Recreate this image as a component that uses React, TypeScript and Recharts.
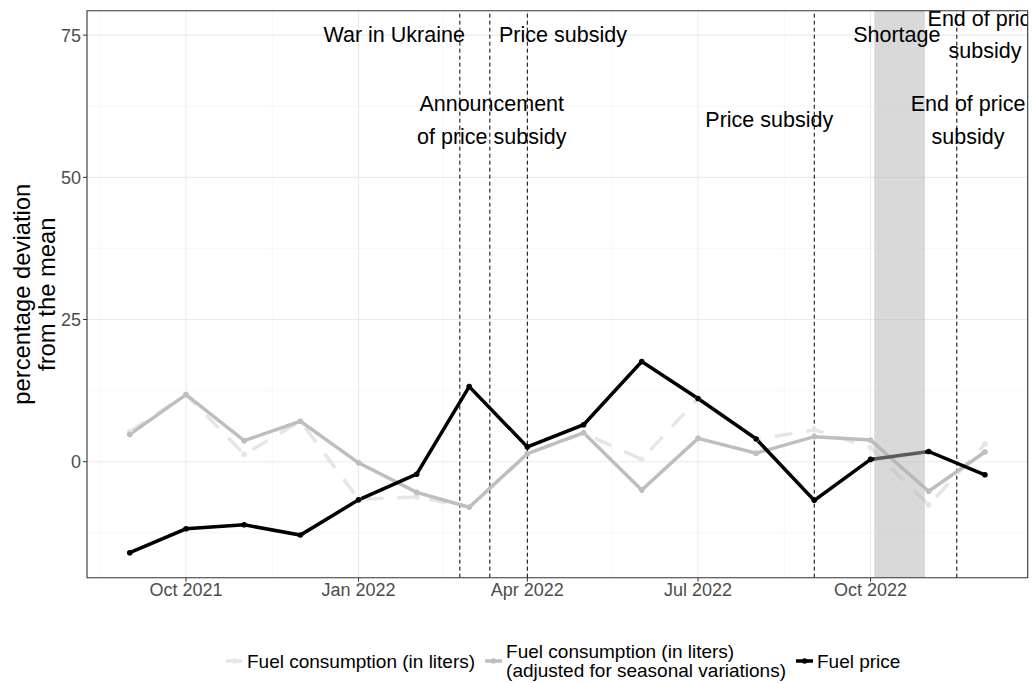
import React from 'react';
import {
  LineChart,
  Line,
  XAxis,
  YAxis,
  CartesianGrid,
  ReferenceLine,
  ReferenceArea,
  ReferenceDot,
  Legend,
} from 'recharts';

const FONT = '"Liberation Sans", Arial, Helvetica, sans-serif';

// monthly observations
const months = [
  '2021-09-01', '2021-10-01', '2021-11-01', '2021-12-01',
  '2022-01-01', '2022-02-01', '2022-03-01', '2022-04-01',
  '2022-05-01', '2022-06-01', '2022-07-01', '2022-08-01',
  '2022-09-01', '2022-10-01', '2022-11-01', '2022-12-01',
];
const rawConsumption = [5.3, 11.8, 1.3, 7.1, -6.6, -6.2, -8.0, 1.4, 5.0, 0.4, 11.1, 3.9, 5.6, 2.5, -7.6, 3.1];
const adjustedConsumption = [4.8, 11.8, 3.7, 7.1, -0.2, -5.4, -8.0, 1.4, 5.1, -5.0, 4.1, 1.5, 4.4, 3.8, -5.2, 1.7];
const fuelPrice = [-16.0, -11.8, -11.1, -12.9, -6.7, -2.2, 13.2, 2.6, 6.5, 17.6, 11.1, 4.0, -6.8, 0.4, 1.8, -2.3];

// axes
const xTickDates = ['2021-10-01', '2022-01-01', '2022-04-01', '2022-07-01', '2022-10-01'];
const xTickLabels = ['Oct 2021', 'Jan 2022', 'Apr 2022', 'Jul 2022', 'Oct 2022'];
const xMinorDates = ['2021-08-16', '2021-11-16', '2022-02-15', '2022-05-16', '2022-08-16', '2022-11-16'];
const yTicks = [0, 25, 50, 75];
const yMinor = [-12.5, 12.5, 37.5, 62.5];
const yDomain = [-20.4, 79.3];

// events
const eventDates = ['2022-02-24', '2022-03-12', '2022-04-01', '2022-09-01', '2022-11-16'];
const shortagePeriod = ['2022-10-03', '2022-10-30'];
const annotationDates = ['2022-01-20', '2022-04-20', '2022-03-13', '2022-08-08', '2022-10-15', '2022-12-01', '2022-11-22'];
const annotationY = [75, 75, 60, 60, 75, 75, 60];
const annotationText = [
  'War in Ukraine',
  'Price subsidy',
  'Announcement\nof price subsidy',
  'Price subsidy',
  'Shortage',
  'End of price\nsubsidy',
  'End of price\nsubsidy',
];

const seriesKeys = ['raw', 'adjusted', 'price'];
const seriesNames = [
  'Fuel consumption (in liters)',
  'Fuel consumption (in liters)\n(adjusted for seasonal variations)',
  'Fuel price',
];
const seriesColors = ['#e6e6e6', '#bebebe', '#000000'];

const DAY = 24 * 60 * 60 * 1000;
const toMs = (d: string) => Date.parse(d + 'T00:00:00Z');

const data = months.map((m, i) => ({
  date: toMs(m),
  raw: rawConsumption[i],
  adjusted: adjustedConsumption[i],
  price: fuelPrice[i],
}));

const first = toMs(months[0]);
const last = toMs(months[months.length - 1]);
const pad = (last - first) * 0.05;
const xDomain = [first - pad, last + pad];

const W = 1036;
const H = 683;
const PANEL = { left: 87, top: 10.7, right: 1027.7, bottom: 577.7 };
const X_AXIS_H = 40;

const formatTick = (v: number) => {
  const idx = xTickDates.findIndex((d) => Math.abs(toMs(d) - v) < DAY / 2);
  return idx >= 0 ? xTickLabels[idx] : '';
};

const renderYTitle = (props: any) => {
  const vb = props.viewBox || { x: 0, y: PANEL.top, height: PANEL.bottom - PANEL.top };
  const cy = vb.y + vb.height / 2;
  const lines = ['percentage deviation', 'from the mean'];
  return (
    <g>
      {lines.map((t, i) => {
        const cx = vb.x + 22 + i * 25;
        return (
          <text
            key={i}
            x={cx}
            y={cy}
            transform={`rotate(-90, ${cx}, ${cy})`}
            textAnchor="middle"
            dominantBaseline="central"
            fontSize={23.8}
            fontFamily={FONT}
            fill="#000"
          >
            {t}
          </text>
        );
      })}
    </g>
  );
};

const makeAnnotation = (text: string, idx: number) => (props: any) => {
  const vb = props.viewBox || {};
  const cx = (vb.x || 0) + (vb.width || 0) / 2;
  const cy = (vb.y || 0) + (vb.height || 0) / 2;
  const lines = text.split('\n');
  const lh = 32.5;
  const clipId = `annot-clip-${idx}`;
  return (
    <g>
      <defs>
        <clipPath id={clipId}>
          <rect x={PANEL.left} y={PANEL.top} width={PANEL.right - PANEL.left} height={PANEL.bottom - PANEL.top} />
        </clipPath>
      </defs>
      <g clipPath={`url(#${clipId})`}>
        {lines.map((l, i) => (
          <text
            key={i}
            x={cx}
            y={cy + (i - (lines.length - 1) / 2) * lh}
            textAnchor="middle"
            dominantBaseline="central"
            fontSize={21.5}
            fontFamily={FONT}
            fill="#000"
          >
            {l}
          </text>
        ))}
      </g>
    </g>
  );
};

const LegendKey = ({ color, dashed }: { color: string; dashed: boolean }) => (
  <svg width={17} height={20} style={{ display: 'block', flex: 'none' }}>
    <line x1={0} y1={10} x2={17} y2={10} stroke={color} strokeWidth={3.5} strokeDasharray={dashed ? '6 4' : undefined} />
    <circle cx={8.5} cy={10} r={2.8} fill={color} />
  </svg>
);

const renderLegend = () => (
  <div style={{ display: 'flex', alignItems: 'center', fontFamily: FONT, fontSize: 19, color: '#000', marginLeft: 226 }}>
    {seriesNames.map((name, i) => (
      <div key={i} style={{ display: 'flex', alignItems: 'center', marginRight: 10 }}>
        <LegendKey color={seriesColors[i]} dashed={i === 0} />
        <div style={{ marginLeft: 4, lineHeight: '19px', whiteSpace: 'pre' }}>
          {name.split('\n').map((l, j) => (
            <div key={j}>{l}</div>
          ))}
        </div>
      </div>
    ))}
  </div>
);

export default function App() {
  return (
    <div style={{ position: 'absolute', left: 0, top: 0, width: W, height: H, background: '#fff' }}>
      <LineChart
        width={W}
        height={H}
        data={data}
        margin={{ top: PANEL.top, right: W - PANEL.right, left: 0, bottom: H - PANEL.bottom - X_AXIS_H }}
        style={{ fontFamily: FONT }}
      >
        <CartesianGrid
          horizontalValues={yMinor}
          verticalValues={xMinorDates.map(toMs)}
          stroke="#f2f2f2"
          strokeWidth={0.6}
        />
        <CartesianGrid
          horizontalValues={yTicks}
          verticalValues={xTickDates.map(toMs)}
          stroke="#ebebeb"
          strokeWidth={1.1}
        />
        <XAxis
          dataKey="date"
          type="number"
          domain={xDomain}
          allowDataOverflow
          ticks={xTickDates.map(toMs)}
          tickFormatter={formatTick}
          interval={0}
          height={X_AXIS_H}
          axisLine={false}
          tickSize={4}
          tickMargin={2}
          tickLine={{ stroke: '#333333', strokeWidth: 1 }}
          tick={{ fill: '#4d4d4d', fontSize: 18, fontFamily: FONT }}
        />
        <YAxis
          type="number"
          domain={yDomain}
          allowDataOverflow
          ticks={yTicks}
          interval={0}
          width={PANEL.left}
          axisLine={false}
          tickSize={4}
          tickMargin={2}
          tickLine={{ stroke: '#333333', strokeWidth: 1 }}
          tick={{ fill: '#4d4d4d', fontSize: 18, fontFamily: FONT }}
          label={renderYTitle}
        />
        {eventDates.map((d) => (
          <ReferenceLine key={d} x={toMs(d)} stroke="#000" strokeWidth={1} strokeDasharray="4 3" />
        ))}
        {seriesKeys.map((k, i) => (
          <Line
            key={k}
            type="linear"
            dataKey={k}
            name={seriesNames[i]}
            stroke={seriesColors[i]}
            strokeWidth={3.5}
            strokeDasharray={i === 0 ? '18 14' : undefined}
            dot={{ r: 2.8, fill: seriesColors[i], stroke: 'none' }}
            activeDot={false}
            isAnimationActive={false}
          />
        ))}
        <ReferenceArea
          x1={toMs(shortagePeriod[0])}
          x2={toMs(shortagePeriod[1])}
          fill="#b3b3b3"
          fillOpacity={0.5}
          stroke="none"
          zIndex={1500}
        />
        {annotationDates.map((d, i) => (
          <ReferenceDot
            key={i}
            x={toMs(d)}
            y={annotationY[i]}
            r={0}
            fill="none"
            stroke="none"
            zIndex={1600}
            label={makeAnnotation(annotationText[i], i)}
          />
        ))}
        <ReferenceArea
          x1={xDomain[0]}
          x2={xDomain[1]}
          y1={yDomain[0]}
          y2={yDomain[1]}
          fill="none"
          stroke="#333333"
          strokeWidth={1.1}
          zIndex={1700}
        />
        <Legend
          layout="horizontal"
          verticalAlign="middle"
          align="center"
          wrapperStyle={{ left: 0, top: 642, width: W }}
          content={renderLegend}
        />
      </LineChart>
    </div>
  );
}
